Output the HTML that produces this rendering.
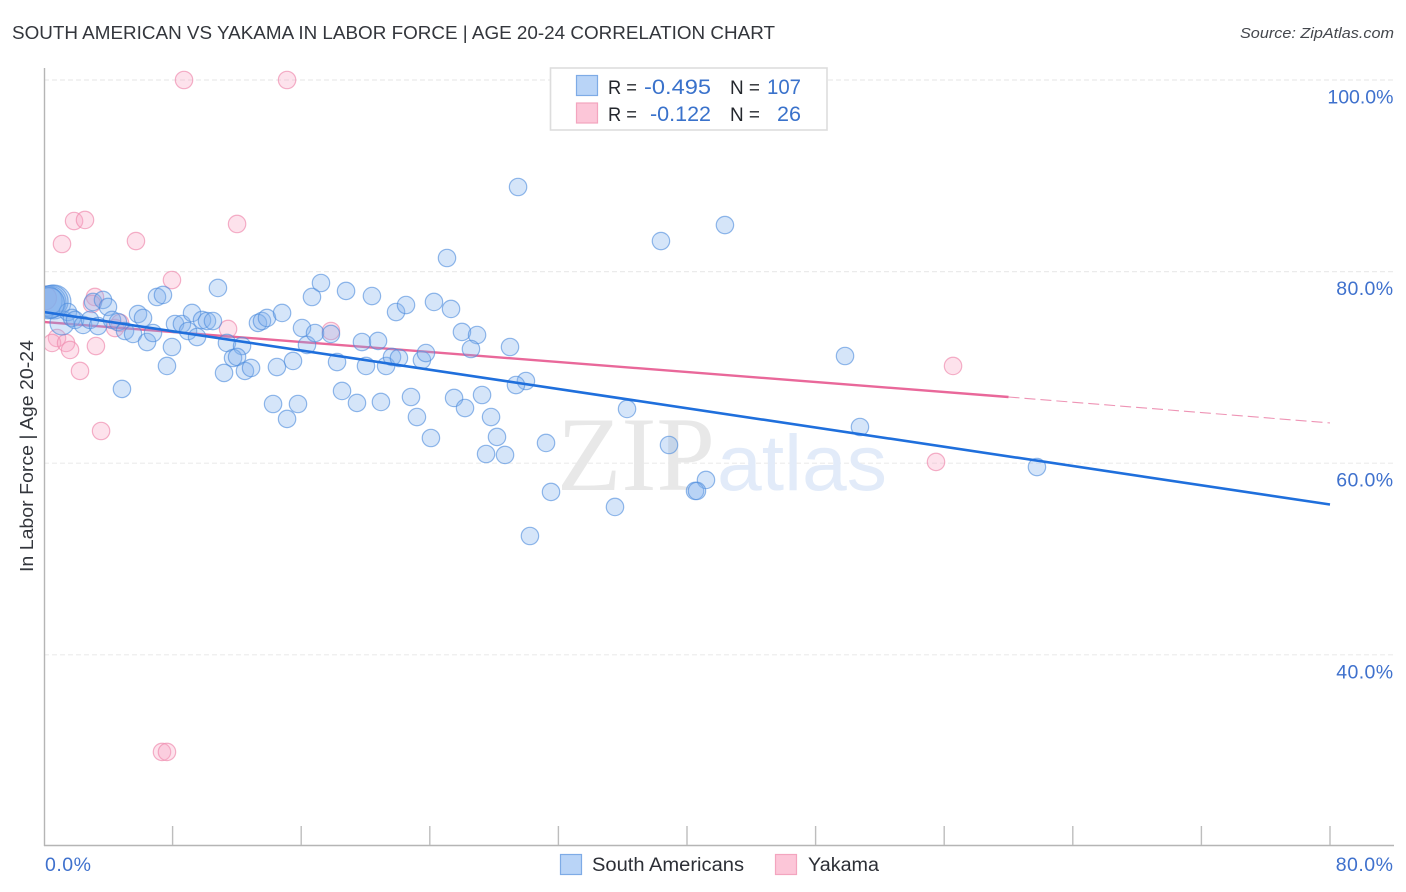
<!DOCTYPE html>
<html lang="en">
<head>
<meta charset="utf-8">
<title>South American vs Yakama in Labor Force | Age 20-24 Correlation Chart</title>
<style>
html,body{margin:0;padding:0;background:#fff;}
body{width:1406px;height:892px;overflow:hidden;}
svg{display:block;}
text{font-family:"Liberation Sans",sans-serif;}
</style>
</head>
<body>
<svg id="chart" xmlns="http://www.w3.org/2000/svg" width="1406" height="892" viewBox="0 0 1406 892">
  <defs><clipPath id="plotClip"><rect x="45" y="60" width="1350" height="785"/></clipPath></defs>
  <rect x="0" y="0" width="1406" height="892" fill="#ffffff"/>
  <text x="12" y="39" font-size="18.5" fill="#33363c" textLength="763" lengthAdjust="spacingAndGlyphs">SOUTH AMERICAN VS YAKAMA IN LABOR FORCE | AGE 20-24 CORRELATION CHART</text>
  <text x="1394" y="38" font-size="15" font-style="italic" fill="#44474d" text-anchor="end" textLength="154" lengthAdjust="spacingAndGlyphs">Source: ZipAtlas.com</text>
  <text transform="translate(33,456) rotate(-90)" font-size="18.5" fill="#33363c" text-anchor="middle" textLength="232" lengthAdjust="spacingAndGlyphs">In Labor Force | Age 20-24</text>
  <g id="grid"></g>
  <text x="557" y="490" font-size="106" fill="#e8e8e8" textLength="158" lengthAdjust="spacingAndGlyphs" style="font-family:'Liberation Serif',serif">ZIP</text>
  <text x="717" y="490" font-size="79" fill="#e2ebf9" textLength="170" lengthAdjust="spacingAndGlyphs">atlas</text>
  <g id="axes"></g>
  <g id="plot" clip-path="url(#plotClip)"></g>
  <g id="tickLabels"></g>

  <g>
    <rect x="550.5" y="68" width="276.5" height="62" fill="#ffffff" stroke="#dddddd" stroke-width="1.6"/>
    <rect x="576.5" y="75.5" width="21" height="20" fill="#b9d4f7" stroke="#7eabe6" stroke-width="1.2"/>
    <rect x="576.5" y="103" width="21" height="20" fill="#fcc6d8" stroke="#f3a5bf" stroke-width="1.2"/>
    <text x="608" y="94" font-size="19" fill="#24272d" textLength="29" lengthAdjust="spacingAndGlyphs">R =</text>
    <text x="644" y="94" font-size="21.5" fill="#3a72cb" textLength="67" lengthAdjust="spacingAndGlyphs">-0.495</text>
    <text x="730" y="94" font-size="19" fill="#24272d" textLength="30" lengthAdjust="spacingAndGlyphs">N =</text>
    <text x="767" y="94" font-size="21.5" fill="#3a72cb" textLength="34" lengthAdjust="spacingAndGlyphs">107</text>
    <text x="608" y="121" font-size="19" fill="#24272d" textLength="29" lengthAdjust="spacingAndGlyphs">R =</text>
    <text x="650" y="121" font-size="21.5" fill="#3a72cb" textLength="61" lengthAdjust="spacingAndGlyphs">-0.122</text>
    <text x="730" y="121" font-size="19" fill="#24272d" textLength="30" lengthAdjust="spacingAndGlyphs">N =</text>
    <text x="777" y="121" font-size="21.5" fill="#3a72cb" textLength="24" lengthAdjust="spacingAndGlyphs">26</text>
  </g>

  <g>
    <rect x="560.5" y="854.5" width="21" height="20" fill="#b9d4f7" stroke="#7eabe6" stroke-width="1.2"/>
    <text x="592" y="871" font-size="19" fill="#2c2f36" textLength="152" lengthAdjust="spacingAndGlyphs">South Americans</text>
    <rect x="775.5" y="854.5" width="21" height="20" fill="#fcc6d8" stroke="#f3a5bf" stroke-width="1.2"/>
    <text x="808" y="871" font-size="19" fill="#2c2f36" textLength="71" lengthAdjust="spacingAndGlyphs">Yakama</text>
  </g>
</svg>
<script>
const yTickValues = [100, 80, 60, 40];
const yTickLabels = ["100.0%", "80.0%", "60.0%", "40.0%"];
const xTickValues = [0, 8, 16, 24, 32, 40, 48, 56, 64, 72, 80];
const xEndValues = [0, 80];
const xEndLabels = ["0.0%", "80.0%"];

const southAmericanLabor_x = [
0.62,0.37,0.19,1.12,0.50,1.49,0.30,1.74,1.93,2.43,
2.86,3.36,3.05,3.67,3.98,4.23,4.60,5.04,5.54,5.85,
6.16,6.41,6.78,7.03,7.40,7.96,7.65,4.85,8.15,8.58,
8.96,9.21,9.52,9.83,10.14,10.51,10.82,11.38,12.32,11.76,
12.01,11.20,12.50,12.88,13.31,13.56,13.87,14.81,14.49,15.49,
16.05,16.36,16.86,17.85,16.67,17.23,18.79,20.40,18.23,19.78,
20.78,20.03,21.28,21.65,22.08,21.90,22.52,24.26,25.32,25.07,
23.51,23.76,26.00,26.94,26.56,28.99,29.98,29.36,18.54,27.25,
22.83,25.51,19.47,20.96,14.25,15.80,26.19,36.27,23.20,27.81,
15.12,24.07,28.18,31.23,38.88,27.50,28.68,50.76,49.83,61.77,
41.18,31.54,40.50,40.62,35.52,30.23,29.49,42.36,38.38];
const southAmericanLabor_y = [
76.83,76.83,76.93,74.64,76.90,75.78,76.70,75.16,74.95,74.43,
74.95,74.32,76.83,77.04,76.31,74.95,74.74,73.80,73.49,75.57,
75.16,72.65,73.59,77.35,77.56,72.13,70.15,67.75,74.53,74.53,
73.80,75.68,73.17,74.95,74.84,74.84,78.29,72.55,72.23,70.98,
71.09,69.42,69.63,69.94,74.64,74.84,75.16,75.68,70.04,70.67,
74.11,72.34,73.59,73.49,77.35,78.81,77.98,77.45,70.56,72.65,
72.76,70.15,70.15,71.09,70.98,75.78,76.51,76.83,76.10,81.42,
70.77,71.50,73.70,73.38,71.92,72.13,68.58,68.16,67.54,67.12,
66.91,66.81,66.29,66.39,66.18,66.18,65.76,65.66,64.82,64.82,
64.62,62.63,62.74,62.11,61.90,60.96,60.86,63.78,71.19,59.60,
58.25,57.00,57.10,57.10,55.43,52.40,88.83,84.86,83.19];
const southAmericanWeights = [3.8, 3.4, 3.0, 1.9, 3.4, 1, 3.2];

const yakamaLabor_x = [0.03,8.71,15.12,1.87,2.55,1.12,5.72,12.01,7.96,3.17,2.99,11.45,17.85,4.42,4.73,0.81,0.50,1.37,1.62,3.23,2.24,3.55,7.34,7.65,56.55,55.49];
const yakamaLabor_y = [77.24,100,100,85.28,85.39,82.88,83.19,84.97,79.12,77.35,76.62,74.01,73.80,74.11,74.64,73.07,72.55,72.55,71.82,72.23,69.63,63.36,29.86,29.86,70.15,60.13];
const yakamaWeights = [1.9];

const southAmericanTrendX = [0, 80];
const southAmericanTrendY = [75.78, 55.69];
const yakamaTrendSolidX = [0, 60];
const yakamaTrendSolidY = [74.74, 66.91];
const yakamaTrendDashX = [60, 80];
const yakamaTrendDashY = [66.91, 64.2];

const NS = "http://www.w3.org/2000/svg";
function xScale(v){ return 44 + v / 80 * 1286; }
function yScale(v){ return 80 + (100 - v) * 9.58; }
function make(parent, tag, attrs){
  const el = document.createElementNS(NS, tag);
  for (const k in attrs) el.setAttribute(k, attrs[k]);
  parent.appendChild(el);
  return el;
}

const grid = document.getElementById("grid");
yTickValues.forEach(function(v, i){
  const line = make(grid, "line", {x1: 44, x2: 1393, y1: yScale(v), y2: yScale(v), stroke: "#ebebeb", "stroke-width": 1.2, "stroke-dasharray": "5 3"});
  
  
});

const axes = document.getElementById("axes");
const yAxis = make(axes, "line", {x1: 44.5, x2: 44.5, y1: 68, y2: 846, stroke: "#b5b5b5", "stroke-width": 1.4});


const xAxis = make(axes, "line", {x1: 44, x2: 1394, y1: 845.5, y2: 845.5, stroke: "#b5b5b5", "stroke-width": 1.4});


xTickValues.slice(1).forEach(function(v){
  const tick = make(axes, "line", {x1: xScale(v), x2: xScale(v), y1: 826, y2: 845, stroke: "#bdbdbd", "stroke-width": 1.4});
  
  
});

const tickGroup = document.getElementById("tickLabels");
yTickValues.forEach(function(v, i){
  const t = make(tickGroup, "text", {x: 1393.5, y: yScale(v) + 23.5, "font-size": 19.5, fill: "#3f71cd", "text-anchor": "end", "letter-spacing": v === 100 ? 0 : 0.4});
  t.textContent = yTickLabels[i];
  
  
});
xEndValues.forEach(function(v, i){
  const anchor = i === 0 ? "start" : "end";
  const px = i === 0 ? xScale(v) + 1 : 1393.5;
  const t = make(tickGroup, "text", {x: px, y: 871, "font-size": 19.5, fill: "#3f71cd", "text-anchor": anchor, "letter-spacing": 0.5});
  t.textContent = xEndLabels[i];
  
  
});

const plot = document.getElementById("plot");
const BASE_R = 8.7;

yakamaLabor_x.forEach(function(x, i){
  const w = yakamaWeights[i] || 1;
  const c = make(plot, "circle", {cx: xScale(x), cy: yScale(yakamaLabor_y[i]), r: BASE_R * Math.sqrt(w), fill: "#f9a8c4", "fill-opacity": 0.33, stroke: "#f08fb0", "stroke-opacity": 0.7, "stroke-width": 1.2});
  
  
});

const yakamaSolid = make(plot, "line", {x1: xScale(yakamaTrendSolidX[0]), y1: yScale(yakamaTrendSolidY[0]), x2: xScale(yakamaTrendSolidX[1]), y2: yScale(yakamaTrendSolidY[1]), stroke: "#e9689a", "stroke-width": 2.4});


const yakamaDash = make(plot, "line", {x1: xScale(yakamaTrendDashX[0]), y1: yScale(yakamaTrendDashY[0]), x2: xScale(yakamaTrendDashX[1]), y2: yScale(yakamaTrendDashY[1]), stroke: "#ee94b5", "stroke-width": 1.1, "stroke-dasharray": "11 5"});



southAmericanLabor_x.forEach(function(x, i){
  const w = southAmericanWeights[i] || 1;
  const c = make(plot, "circle", {cx: xScale(x), cy: yScale(southAmericanLabor_y[i]), r: BASE_R * Math.sqrt(w), fill: "#7fb0ee", "fill-opacity": 0.33, stroke: "#4b8bdc", "stroke-opacity": 0.6, "stroke-width": 1.2});
  
  
});

const southTrend = make(plot, "line", {x1: xScale(southAmericanTrendX[0]), y1: yScale(southAmericanTrendY[0]), x2: xScale(southAmericanTrendX[1]), y2: yScale(southAmericanTrendY[1]), stroke: "#1f6fdc", "stroke-width": 2.6});


</script>
</body>
</html>
